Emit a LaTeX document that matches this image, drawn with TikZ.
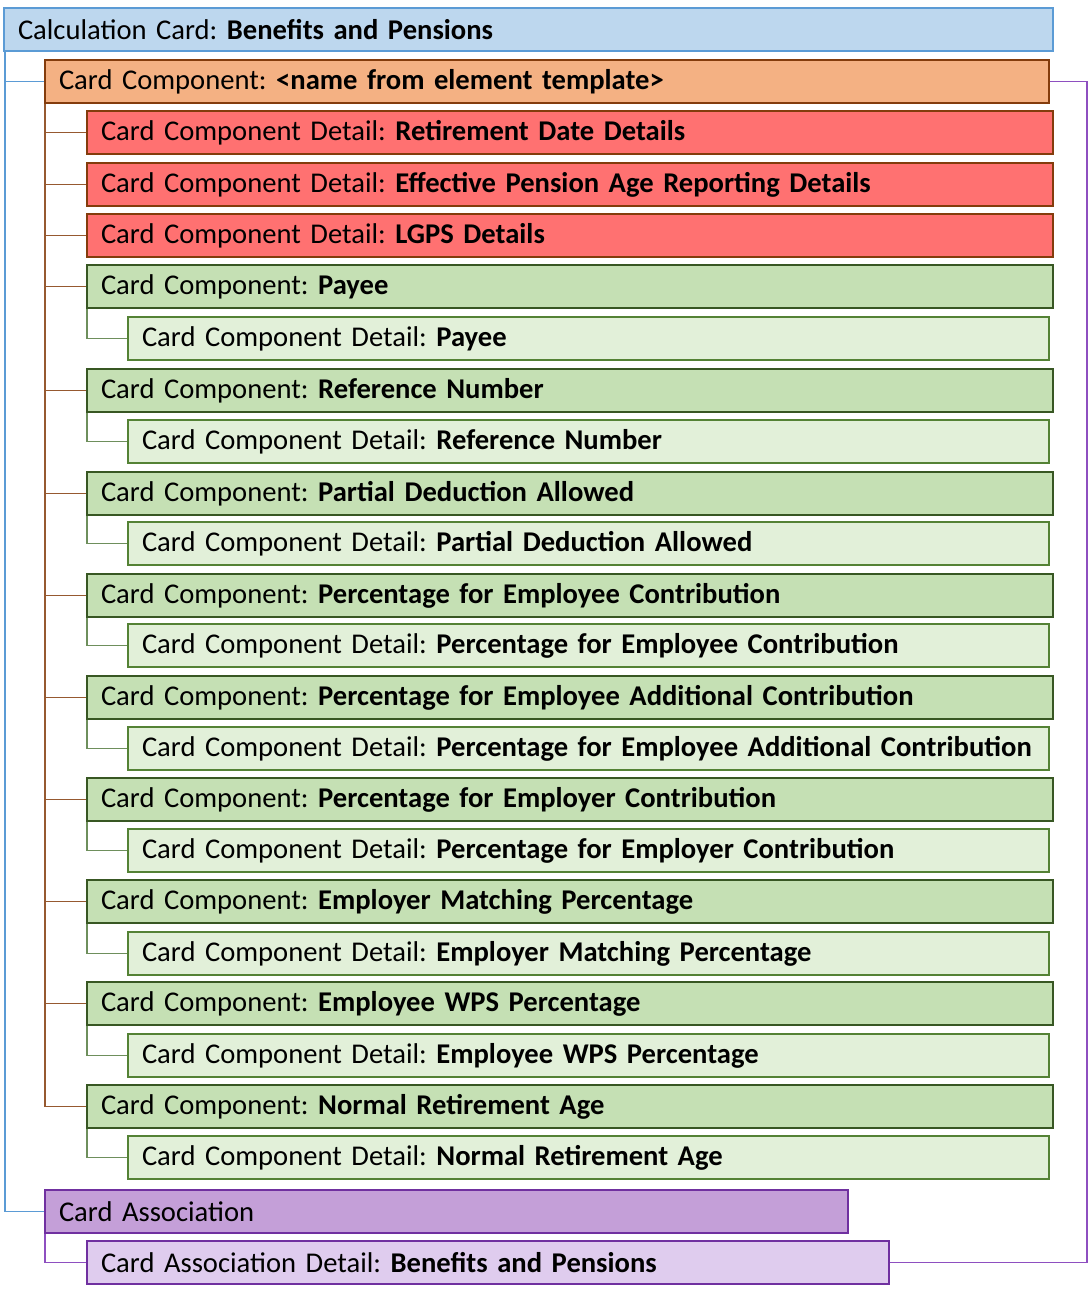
\documentclass[tikz,border=0pt]{standalone}
\usepackage{fontspec}
\setmainfont{Carlito}
\frenchspacing
\definecolor{calcfill}{HTML}{BDD7EE}
\definecolor{calcdraw}{HTML}{5B9BD5}
\definecolor{orfill}{HTML}{F4B183}
\definecolor{ordraw}{HTML}{843C0C}
\definecolor{redfill}{HTML}{FF7171}
\definecolor{grfill}{HTML}{C5E0B4}
\definecolor{grdraw}{HTML}{385723}
\definecolor{lgfill}{HTML}{E2F0D9}
\definecolor{lgdraw}{HTML}{548235}
\definecolor{pufill}{HTML}{C49FD8}
\definecolor{pudraw}{HTML}{7030A0}
\definecolor{lpfill}{HTML}{DFCCEE}
\definecolor{grline}{HTML}{6E8F5C}
\definecolor{puline}{HTML}{8E4FC0}
\tikzset{
  box/.style={draw, line width=2pt, anchor=north west, minimum height=43pt,
    inner xsep=14pt, inner ysep=0pt, align=left, font=\fontsize{28.6}{30}\selectfont},
  calc/.style={box, fill=calcfill, draw=calcdraw, text width=1021pt},
  orange/.style={box, fill=orfill, draw=ordraw, text width=976pt},
  redb/.style={box, fill=redfill, draw=ordraw, text width=938pt},
  comp/.style={box, fill=grfill, draw=grdraw, text width=938pt},
  detl/.style={box, fill=lgfill, draw=lgdraw, text width=893pt},
  assoc/.style={box, fill=pufill, draw=pudraw, text width=775pt},
  assocd/.style={box, fill=lpfill, draw=pudraw, text width=774pt},
  bline/.style={draw=calcdraw, line width=1.3pt},
  oline/.style={draw=ordraw!85, line width=1.3pt},
  gline/.style={draw=grline, line width=1.3pt},
  pline/.style={draw=puline, line width=1.3pt}
}
\begin{document}
\begin{tikzpicture}[x=1pt,y=-1pt]
\useasboundingbox (0,0) rectangle (1089,1299);
\node[calc] (cc) at (3,7) {Calculation Card: \textbf{Benefits and Pensions}};
\node[orange] (co) at (44,59) {Card Component: \textbf{<name from element template>}};
\node[redb] (r1) at (86,110) {Card Component Detail: \textbf{Retirement Date Details}};
\node[redb] (r2) at (86,162) {Card Component Detail: \textbf{Effective Pension Age Reporting Details}};
\node[redb] (r3) at (86,213) {Card Component Detail: \textbf{LGPS Details}};
\node[comp] (c1) at (86,264) {Card Component: \textbf{Payee}};
\node[detl] (d1) at (127,316) {Card Component Detail: \textbf{Payee}};
\node[comp] (c2) at (86,368) {Card Component: \textbf{Reference Number}};
\node[detl] (d2) at (127,419) {Card Component Detail: \textbf{Reference Number}};
\node[comp] (c3) at (86,471) {Card Component: \textbf{Partial Deduction Allowed}};
\node[detl] (d3) at (127,521) {Card Component Detail: \textbf{Partial Deduction Allowed}};
\node[comp] (c4) at (86,573) {Card Component: \textbf{Percentage for Employee Contribution}};
\node[detl] (d4) at (127,623) {Card Component Detail: \textbf{Percentage for Employee Contribution}};
\node[comp] (c5) at (86,675) {Card Component: \textbf{Percentage for Employee Additional Contribution}};
\node[detl] (d5) at (127,726) {Card Component Detail: \textbf{Percentage for Employee Additional Contribution}};
\node[comp] (c6) at (86,777) {Card Component: \textbf{Percentage for Employer Contribution}};
\node[detl] (d6) at (127,828) {Card Component Detail: \textbf{Percentage for Employer Contribution}};
\node[comp] (c7) at (86,879) {Card Component: \textbf{Employer Matching Percentage}};
\node[detl] (d7) at (127,931) {Card Component Detail: \textbf{Employer Matching Percentage}};
\node[comp] (c8) at (86,981) {Card Component: \textbf{Employee WPS Percentage}};
\node[detl] (d8) at (127,1033) {Card Component Detail: \textbf{Employee WPS Percentage}};
\node[comp] (c9) at (86,1084) {Card Component: \textbf{Normal Retirement Age}};
\node[detl] (d9) at (127,1135) {Card Component Detail: \textbf{Normal Retirement Age}};
\node[assoc] (ca) at (44,1189) {Card Association};
\node[assocd] (ad) at (86,1240) {Card Association Detail: \textbf{Benefits and Pensions}};
\coordinate (rt) at (1087,0);
% blue connectors
\draw[bline] ([xshift=2pt]cc.south west) |- (co.west);
\draw[bline] ([xshift=2pt]cc.south west) |- (ca.west);
% brown connectors
\foreach \n in {r1,r2,r3,c1,c2,c3,c4,c5,c6,c7,c8,c9}
  \draw[oline] ([xshift=1pt]co.south west) |- (\n.west);
% green connectors
\foreach \a/\b in {c1/d1,c2/d2,c3/d3,c4/d4,c5/d5,c6/d6,c7/d7,c8/d8,c9/d9}
  \draw[gline] ([xshift=1pt]\a.south west) |- (\b.west);
% purple connectors
\draw[pline] ([xshift=1pt]ca.south west) |- (ad.west);
\draw[pline] (co.east) -| (rt |- ad.east) -- (ad.east);
\end{tikzpicture}
\end{document}
